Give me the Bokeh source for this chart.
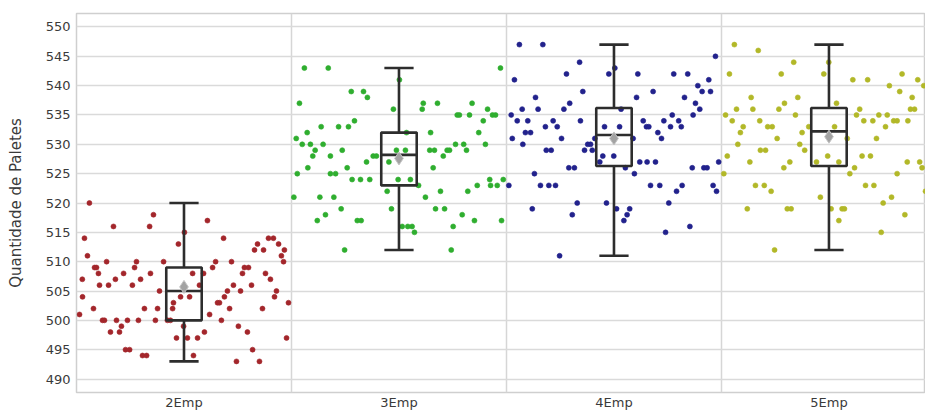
from bokeh.plotting import figure
from bokeh.models import FixedTicker, Range1d, ColumnDataSource
from bokeh.embed import file_html
from bokeh.resources import INLINE

# ---------------- data ----------------
categories = ["2Emp", "3Emp", "4Emp", "5Emp"]
point_colors = ["#a3262b", "#2fae2f", "#22228c", "#b2b828"]

# box statistics
whisker_low = [493, 512, 511, 512]
q1 = [500, 523, 526.3, 526.3]
median = [505, 528.2, 531.6, 532.2]
q3 = [509, 532, 536.2, 536.2]
whisker_high = [520, 543, 547, 547]
mean = [505.7, 527.6, 531.0, 531.3]

# individual observations (value) with their horizontal jitter (fraction of a category)
emp2_y = [501, 507, 504, 514, 520, 511, 502, 509, 509, 508, 506, 500, 500, 510, 506, 498, 516, 507,
          500, 498, 499, 508, 500, 495, 495, 506, 509, 510, 500, 507, 494, 494, 502, 516, 508, 518,
          500, 502, 505, 510, 500, 500, 502, 503, 497, 513, 504, 499, 515, 497, 504, 508, 494, 497,
          506, 508, 498, 517, 501, 509, 510, 503, 503, 500, 514, 504, 505, 502, 510, 506, 493, 499,
          505, 508, 509, 509, 498, 506, 495, 512, 513, 493, 502, 512, 508, 514, 507, 514, 504, 505,
          513, 511, 510, 512, 497, 503]
emp2_jit = [-0.486, -0.473, -0.472, -0.463, -0.440, -0.449, -0.421, -0.416, -0.407, -0.398, -0.393,
            -0.379, -0.370, -0.360, -0.351, -0.342, -0.328, -0.319, -0.314, -0.300, -0.291, -0.281,
            -0.263, -0.272, -0.253, -0.240, -0.230, -0.221, -0.212, -0.202, -0.193, -0.174, -0.184,
            -0.160, -0.156, -0.142, -0.133, -0.123, -0.114, -0.095, -0.077, -0.063, -0.053, -0.049,
            -0.035, -0.026, -0.016, -0.002, 0.002, 0.016, 0.026, 0.040, 0.044, 0.063, 0.072, 0.091,
            0.095, 0.109, 0.119, 0.133, 0.147, 0.156, 0.165, 0.174, 0.184, 0.188, 0.202, 0.212,
            0.221, 0.230, 0.244, 0.253, 0.263, 0.272, 0.281, 0.300, 0.295, 0.314, 0.319, 0.328,
            0.342, 0.351, 0.365, 0.370, 0.379, 0.393, 0.402, 0.416, 0.421, 0.430, 0.440, 0.453,
            0.463, 0.467, 0.477, 0.486]

emp3_y = [543, 543, 543, 541, 539, 539, 538, 537, 537, 537, 537, 536, 536, 536, 535, 535, 535, 535,
          535, 534, 534, 533, 533, 533, 532, 532, 532, 532, 531, 530, 530, 530, 530, 530, 530, 529,
          529, 529, 529, 529, 529, 529, 529, 529, 528, 528, 528, 528, 528, 527, 527, 526, 526, 526,
          525, 525, 525, 524, 524, 524, 524, 524, 524, 523, 523, 523, 524, 523, 522, 522, 522, 521,
          521, 521, 521, 519, 519, 519, 519, 518, 518, 517, 517, 517, 517, 517, 516, 516, 516, 516,
          515, 512, 512]
emp3_jit = [-0.440, -0.329, 0.472, 0.002, -0.222, -0.165, -0.147, -0.463, 0.113, 0.179, 0.340,
            -0.026, 0.108, 0.412, 0.271, 0.281, 0.328, 0.435, 0.449, -0.207, 0.392, -0.362, -0.281,
            -0.235, -0.427, 0.371, 0.035, 0.147, -0.478, -0.450, -0.412, -0.353, 0.263, 0.301,
            0.402, -0.390, -0.264, 0.143, 0.165, 0.224, 0.235, 0.314, -0.012, 0.030, -0.401, -0.319,
            -0.120, -0.105, 0.206, -0.047, -0.151, -0.424, -0.241, 0.159, -0.473, -0.319, -0.295,
            -0.218, -0.179, -0.136, -0.004, 0.053, 0.422, 0.364, 0.426, 0.457, 0.485, 0.091, -0.055,
            0.193, 0.320, -0.489, -0.368, -0.303, 0.123, -0.269, -0.035, 0.170, 0.212, -0.342,
            0.294, -0.380, -0.194, -0.176, 0.351, 0.477, 0.252, 0.015, 0.041, 0.061, 0.072, -0.253,
            0.243]

emp4_y = [547, 547, 545, 544, 543, 542, 542, 542, 542, 542, 541, 541, 540, 539, 539, 539, 539, 538,
          538, 538, 537, 537, 536, 536, 536, 536, 536, 535, 535, 535, 534, 534, 534, 534, 534, 534,
          534, 533, 533, 533, 533, 533, 533, 533, 533, 532, 532, 532, 531, 531, 531, 531, 530, 530,
          530, 531, 529, 529, 529, 529, 528, 528, 527, 527, 527, 527, 527, 526, 526, 526, 526, 526,
          526, 525, 525, 523, 523, 523, 523, 523, 523, 523, 523, 522, 522, 520, 520, 520, 519, 519,
          519, 518, 518, 517, 516, 515, 511]
emp4_jit = [-0.440, -0.331, 0.472, -0.160, 0.004, -0.221, -0.024, 0.111, 0.278, 0.343, -0.463,
            0.441, 0.390, -0.145, 0.182, 0.410, 0.449, -0.365, 0.105, 0.328, -0.206, 0.379, -0.427,
            -0.353, -0.233, 0.033, 0.399, -0.478, 0.271, 0.368, -0.450, -0.401, -0.283, -0.156,
            0.136, 0.232, 0.301, -0.319, -0.264, -0.044, 0.026, 0.151, 0.162, 0.263, 0.313, -0.412,
            -0.388, 0.204, -0.473, -0.244, 0.221, 0.089, -0.424, -0.122, -0.109, -0.089, -0.315,
            -0.292, -0.137, -0.101, -0.052, -0.001, -0.066, 0.120, 0.154, 0.193, 0.487, -0.210,
            -0.184, 0.053, 0.364, 0.418, 0.433, -0.370, 0.095, -0.489, -0.342, -0.303, -0.272,
            0.170, 0.213, 0.317, 0.461, 0.291, 0.477, -0.171, -0.035, 0.255, -0.380, 0.012, 0.073,
            -0.194, 0.061, 0.046, 0.353, 0.240, -0.253]

emp5_y = [547, 546, 544, 544, 542, 542, 542, 542, 541, 541, 541, 540, 540, 539, 538, 538, 538, 537,
          537, 536, 536, 536, 536, 536, 536, 535, 535, 535, 535, 535, 534, 534, 534, 534, 534, 534,
          534, 533, 533, 533, 533, 533, 533, 532, 532, 531, 531, 531, 530, 530, 529, 529, 529, 528,
          528, 528, 528, 527, 527, 527, 527, 527, 527, 526, 526, 526, 525, 525, 525, 523, 523, 523,
          523, 522, 522, 521, 521, 520, 519, 519, 519, 519, 519, 519, 518, 517, 515, 512]
emp5_jit = [-0.440, -0.329, -0.164, -0.001, -0.463, -0.222, -0.024, 0.340, 0.111, 0.180, 0.413,
            0.281, 0.441, 0.329, -0.362, -0.145, 0.387, -0.207, 0.035, -0.430, -0.354, -0.233,
            0.143, 0.379, 0.398, -0.481, -0.156, 0.128, 0.232, 0.271, -0.450, -0.322, 0.162, 0.204,
            0.301, 0.317, 0.367, -0.399, -0.285, -0.264, -0.094, 0.026, 0.263, -0.412, -0.125,
            0.085, -0.241, 0.221, -0.424, -0.136, -0.319, -0.295, -0.113, -0.473, -0.006, 0.154,
            0.193, -0.368, -0.182, -0.058, 0.046, 0.364, 0.422, -0.210, 0.119, 0.433, -0.489, 0.097,
            0.317, -0.342, -0.301, 0.170, 0.209, -0.269, 0.449, -0.040, 0.291, 0.252, -0.380,
            -0.194, -0.176, 0.010, 0.061, 0.072, 0.353, 0.046, 0.243, -0.253]

y_ticks = [490, 495, 500, 505, 510, 515, 520, 525, 530, 535, 540, 545, 550]
y_label = "Quantidade de Paletes"

series_y = [emp2_y, emp3_y, emp4_y, emp5_y]
series_jit = [emp2_jit, emp3_jit, emp4_jit, emp5_jit]

# ---------------- figure ----------------
FONT = "DejaVu Sans"
p = figure(width=925, height=412, output_backend="svg", toolbar_location=None,
           x_range=Range1d(0, 3.949), y_range=Range1d(487.7, 552.3),
           min_border_left=76, min_border_right=0, min_border_top=13, min_border_bottom=0)
p.background_fill_color = "white"
p.border_fill_color = "white"
p.outline_line_color = "#cfcfcf"
p.outline_line_width = 1.5

centers = [i + 0.5 for i in range(len(categories))]

# axes
p.xaxis.ticker = FixedTicker(ticks=centers)
p.xaxis.major_label_overrides = {c: lab for c, lab in zip(centers, categories)}
p.yaxis.ticker = FixedTicker(ticks=y_ticks)
for ax in (p.xaxis[0], p.yaxis[0]):
    ax.axis_line_color = None
    ax.major_tick_line_color = None
    ax.minor_tick_line_color = None
    ax.major_tick_out = 0
    ax.major_tick_in = 0
    ax.major_label_text_font = FONT
    ax.major_label_text_font_size = "13px"
    ax.major_label_text_color = "#3a3a3a"
p.xaxis.major_label_standoff = 2
p.yaxis.major_label_standoff = 6
p.yaxis.axis_label = y_label
p.yaxis.axis_label_text_font = FONT
p.yaxis.axis_label_text_font_size = "15px"
p.yaxis.axis_label_text_font_style = "normal"
p.yaxis.axis_label_text_color = "#3a3a3a"
p.yaxis.axis_label_standoff = 18

# grid
p.xgrid.ticker = FixedTicker(ticks=[1, 2, 3])
p.xgrid.grid_line_color = "#d6d6d6"
p.xgrid.grid_line_width = 1.5
p.ygrid.grid_line_color = "#dadada"
p.ygrid.grid_line_width = 1.5

# jittered points
for c, ys, js, col in zip(centers, series_y, series_jit, point_colors):
    src = ColumnDataSource(dict(x=[c + j for j in js], y=ys))
    p.scatter("x", "y", source=src, size=5, fill_color=col, line_color=col, line_alpha=0.6)

# box plots
BOX_HALF = 0.0825
CAP_HALF = 0.068
box_src = ColumnDataSource(dict(
    c=centers,
    left=[c - BOX_HALF for c in centers],
    right=[c + BOX_HALF for c in centers],
    capl=[c - CAP_HALF for c in centers],
    capr=[c + CAP_HALF for c in centers],
    lo=whisker_low, q1=q1, med=median, q3=q3, hi=whisker_high, mean=mean,
))
LC = "#2d2d2d"
LW = 2.6
p.segment(x0="c", y0="q3", x1="c", y1="hi", source=box_src, line_color=LC, line_width=LW)
p.segment(x0="c", y0="lo", x1="c", y1="q1", source=box_src, line_color=LC, line_width=LW)
p.segment(x0="capl", y0="hi", x1="capr", y1="hi", source=box_src, line_color=LC, line_width=LW)
p.segment(x0="capl", y0="lo", x1="capr", y1="lo", source=box_src, line_color=LC, line_width=LW)
p.quad(left="left", right="right", bottom="q1", top="q3", source=box_src,
       fill_color=None, line_color=LC, line_width=LW)
p.segment(x0="left", y0="med", x1="right", y1="med", source=box_src, line_color=LC, line_width=LW)
p.scatter("c", "mean", source=box_src, marker="diamond", size=13,
          fill_color="#a2a2a2", line_color="#c4c4c4", line_width=1)

open("out.html", "w").write(file_html(p, INLINE))
